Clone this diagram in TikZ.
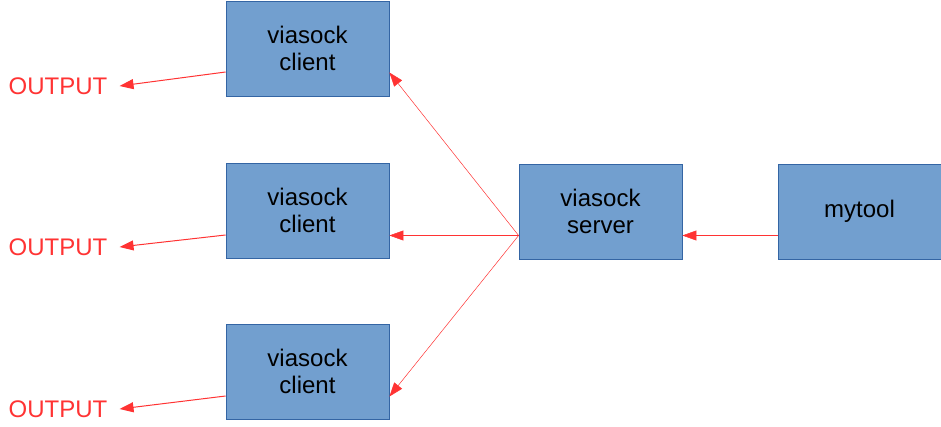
\documentclass[tikz,border=0pt]{standalone}
\usepackage{fontspec}
\setmainfont{Liberation Sans}
\usetikzlibrary{arrows.meta}
\definecolor{boxfill}{HTML}{729FCF}
\definecolor{boxline}{HTML}{3465A4}
\definecolor{redline}{HTML}{FF3333}
\begin{document}
\begin{tikzpicture}[x=1pt,y=-1pt,
  blk/.style={draw=boxline,fill=boxfill,line width=0.8pt,minimum width=163pt,minimum height=95pt,inner sep=0pt,align=center,font=\fontsize{24}{27.5}\selectfont},
  outlbl/.style={text=redline,font=\fontsize{24}{27.5}\selectfont,inner sep=0pt},
  thinarr/.style={draw=redline,line width=0.5pt,-{Triangle[length=14pt,width=10pt]}},
  outarr/.style={draw=redline,line width=1pt,-{Triangle[length=14pt,width=10pt]}}]
\useasboundingbox (0,0) rectangle (941,427);
\node[blk] (c1) at (307.5,48.5) {viasock\\client};
\node[blk] (c2) at (307.5,210.5) {viasock\\client};
\node[blk] (c3) at (307.5,371.5) {viasock\\client};
\node[blk] (s) at (600.5,211.5) {viasock\\server};
\node[blk] (m) at (859.5,211.5) {mytool};
\node[outlbl] (o1) at (58,86) {OUTPUT};
\node[outlbl] (o2) at (58,247) {OUTPUT};
\node[outlbl] (o3) at (58,409) {OUTPUT};
\draw[thinarr] ([yshift=-24pt]m.west) -- ([yshift=-24pt]s.east);
\draw[thinarr] ([yshift=-24pt]s.west) -- ([yshift=-24pt]c1.east);
\draw[thinarr] ([yshift=-24pt]s.west) -- ([yshift=-25pt]c2.east);
\draw[thinarr] ([yshift=-24pt]s.west) -- ([yshift=-25pt]c3.east);
\draw[outarr] ([yshift=-23.5pt]c1.west) -- ([xshift=12pt]o1.east);
\draw[outarr] ([yshift=-24.5pt]c2.west) -- ([xshift=12pt]o2.east);
\draw[outarr] ([yshift=-24.5pt]c3.west) -- ([xshift=12pt]o3.east);
\end{tikzpicture}
\end{document}
